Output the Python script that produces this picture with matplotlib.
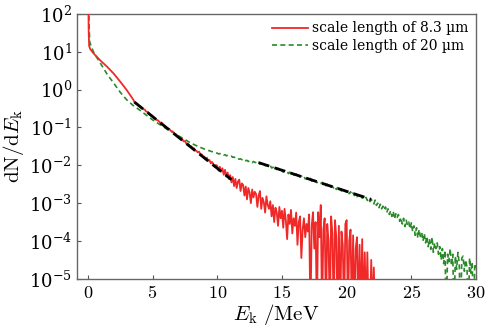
import numpy as np
import matplotlib
matplotlib.use("Agg")
import matplotlib.pyplot as plt

plt.rcParams["font.family"] = ["DejaVu Serif"]
plt.rcParams["mathtext.fontset"] = "cm"

# --- data (log10 of dN/dE, -6 = empty bin) ---
# scale length 8.3 um, low-energy part
red_e_low = [0.04, 0.06, 0.1, 0.2, 0.3, 0.4, 0.6, 0.93, 1.5, 2.0, 2.5, 3.0, 3.5]
red_log_low = [2.5, 1.6, 1.15, 1.06, 1.02, 0.97, 0.9, 0.78, 0.6, 0.42, 0.21, -0.01, -0.26]
# 8.3 um, 3.6 .. 22.2 MeV in 0.1 MeV bins
red_e_start, red_e_step = 3.6, 0.1
red_log_bins = [
    -0.33, -0.37, -0.37, -0.42,
    -0.43, -0.48, -0.49, -0.52, -0.53, -0.58, -0.59, -0.61, -0.66, -0.67,
    -0.70, -0.75, -0.76, -0.80, -0.81, -0.84, -0.88, -0.87, -0.93, -0.95,
    -0.97, -1.01, -1.03, -1.04, -1.09, -1.10, -1.12, -1.17, -1.18, -1.22,
    -1.24, -1.28, -1.30, -1.31, -1.37, -1.36, -1.42, -1.43, -1.45, -1.51,
    -1.50, -1.56, -1.55, -1.61, -1.62, -1.66, -1.64, -1.72, -1.71, -1.78,
    -1.77, -1.83, -1.80, -1.88, -1.86, -1.95, -1.91, -1.97, -2.04, -1.99,
    -2.02, -2.14, -2.04, -2.17, -2.08, -2.25, -2.12, -2.30, -2.19, -2.36,
    -2.26, -2.45, -2.31, -2.55, -2.36, -2.60, -2.43, -2.38, -2.68, -2.48,
    -2.52, -2.80, -2.56, -2.90, -2.60, -2.72, -3.00, -2.64, -2.85, -2.70,
    -2.76, -3.10, -2.80, -2.68, -3.15, -2.86, -2.98, -3.25, -2.82, -3.05,
    -3.15, -2.95, -3.35, -3.05, -3.50, -3.12, -3.25, -3.60, -3.10, -3.40,
    -3.20, -3.65, -3.15, -3.45, -3.95, -3.30, -3.55, -3.18, -3.80, -3.40,
    -3.60, -3.25, -4.10, -3.50, -3.35, -4.45, -3.70, -3.40, -3.90, -3.55,
    -3.75, -3.30, -6.00, -3.60, -3.24, -4.20, -3.50, -6.00, -3.24, -3.90,
    -3.05, -6.00, -3.70, -3.40, -6.00, -3.55, -4.00, -6.00, -3.35, -3.80,
    -6.00, -3.45, -3.90, -6.00, -3.60, -6.00, -3.75, -4.10, -6.00, -3.55,
    -3.45, -6.00, -4.00, -3.70, -6.00, -3.85, -6.00, -4.20, -3.90, -6.00,
    -4.10, -6.00, -3.95, -6.00, -4.30, -6.00, -4.30, -6.00, -6.00, -4.50,
    -6.00, -4.70, -6.00,
]

# scale length 20 um, low-energy part
green_e_low = [0.05, 0.1, 0.15, 0.3, 0.5, 1.0, 1.5, 2.0, 2.5, 3.0, 3.5, 4.0,
               4.5, 5.0, 5.5, 6.0, 6.5, 7.0, 7.5, 8.0, 8.5, 9.0, 9.5]
green_log_low = [2.5, 1.6, 1.25, 1.1, 0.95, 0.68, 0.4, 0.17, -0.07, -0.27, -0.42, -0.54,
                 -0.67, -0.80, -0.91, -1.02, -1.12, -1.22, -1.32, -1.42, -1.50, -1.57, -1.63]
# 20 um, 10 .. 30 MeV in 0.1 MeV bins
green_e_start, green_e_step = 10.0, 0.1
green_log_bins = [
    -1.68, -1.70, -1.69, -1.72, -1.71, -1.73, -1.72, -1.75, -1.74, -1.76,
    -1.77, -1.76, -1.79, -1.78, -1.81, -1.80, -1.82, -1.84, -1.83, -1.85,
    -1.86, -1.84, -1.88, -1.87, -1.90, -1.88, -1.91, -1.93, -1.90, -1.92,
    -1.93, -1.96, -1.92, -1.97, -1.95, -1.99, -1.96, -2.01, -1.99, -2.03,
    -2.04, -2.01, -2.07, -2.05, -2.09, -2.06, -2.11, -2.08, -2.13, -2.12,
    -2.15, -2.18, -2.14, -2.19, -2.17, -2.22, -2.18, -2.23, -2.21, -2.25,
    -2.26, -2.23, -2.29, -2.27, -2.31, -2.28, -2.33, -2.30, -2.36, -2.34,
    -2.37, -2.40, -2.35, -2.42, -2.39, -2.44, -2.41, -2.46, -2.43, -2.47,
    -2.48, -2.45, -2.52, -2.49, -2.54, -2.50, -2.56, -2.53, -2.58, -2.56,
    -2.60, -2.56, -2.64, -2.59, -2.66, -2.62, -2.68, -2.63, -2.70, -2.67,
    -2.71, -2.66, -2.75, -2.70, -2.78, -2.73, -2.80, -2.76, -2.83, -2.78,
    -2.82, -2.78, -2.87, -2.83, -2.90, -2.85, -2.93, -2.88, -2.96, -2.91,
    -2.94, -3.02, -2.92, -3.06, -3.00, -3.12, -3.03, -3.15, -3.08, -3.18,
    -3.10, -3.25, -3.15, -3.30, -3.20, -3.35, -3.22, -3.42, -3.28, -3.38,
    -3.30, -3.48, -3.38, -3.55, -3.40, -3.62, -3.45, -3.58, -3.50, -3.68,
    -3.52, -3.75, -3.60, -3.85, -3.65, -3.92, -3.70, -3.88, -3.78, -4.00,
    -3.80, -4.05, -3.88, -4.15, -3.95, -4.22, -3.90, -4.30, -4.05, -4.20,
    -4.05, -4.35, -4.15, -4.50, -4.20, -4.60, -4.25, -6.00, -4.35, -4.55,
    -4.20, -4.65, -4.35, -6.00, -4.40, -4.75, -4.30, -4.60, -6.00, -4.45,
    -4.40, -4.80, -4.50, -4.70, -6.00, -4.45, -4.85, -4.55, -6.00, -4.60,
    -4.70,
]

# black dashed exponential fits (end points)
fit1_e = [3.6, 11.1]
fit1_log = [-0.33, -2.38]
fit2_e = [13.2, 21.9]
fit2_log = [-1.93, -2.90]

labels = ["scale length of 8.3 µm", "scale length of 20 µm"]

# build full series
red_e = np.concatenate([red_e_low, red_e_start + red_e_step * np.arange(len(red_log_bins))])
red_y = 10.0 ** np.concatenate([red_log_low, red_log_bins])
green_e = np.concatenate([green_e_low, green_e_start + green_e_step * np.arange(len(green_log_bins))])
green_y = 10.0 ** np.concatenate([green_log_low, green_log_bins])

fig = plt.figure(figsize=(4.99, 3.30), dpi=100)
ax = fig.add_axes([0.154, 0.155, 0.800, 0.803])

ax.plot(green_e, green_y, color="#2a8a2a", lw=1.2, ls=(0, (3, 2)), label=labels[1], zorder=2)
ax.plot(red_e, red_y, color="#f02828", lw=1.3, label=labels[0], zorder=3)
ax.plot(fit1_e, 10.0 ** np.array(fit1_log), color="black", lw=2.0, ls=(0, (4, 2)), zorder=4)
ax.plot(fit2_e, 10.0 ** np.array(fit2_log), color="black", lw=2.0, ls=(0, (4, 2)), zorder=4)

ax.set_yscale("log")
ax.set_xlim(-0.85, 30)
ax.set_ylim(1e-5, 1e2)
ax.set_xticks([0, 5, 10, 15, 20, 25, 30])
ax.set_xticklabels([r"$%d$" % v for v in [0, 5, 10, 15, 20, 25, 30]])
ax.set_yticks([10.0 ** k for k in range(-5, 3)])
ax.tick_params(axis="both", which="both", direction="in", top=False, right=False,
               labelsize=13, colors="#555555", labelcolor="black")
ax.tick_params(axis="both", which="major", length=3, width=0.8)
ax.tick_params(axis="y", which="minor", length=1.5, width=0.5)
for s in ax.spines.values():
    s.set_color("#666666")
    s.set_linewidth(1.0)

ax.set_xlabel(r"$E_{\mathrm{k}}\ /\mathrm{MeV}$", fontsize=15, labelpad=0)
ax.set_ylabel(r"$\mathrm{dN/d}E_{\mathrm{k}}$", fontsize=15, labelpad=2)

handles, labs = ax.get_legend_handles_labels()
ax.legend([handles[1], handles[0]], [labs[1], labs[0]], loc="upper right", frameon=False,
          fontsize=10, handlelength=2.6, handletextpad=0.3, borderaxespad=0.15,
          labelspacing=0.25)

fig.savefig("out.png", dpi=100)
